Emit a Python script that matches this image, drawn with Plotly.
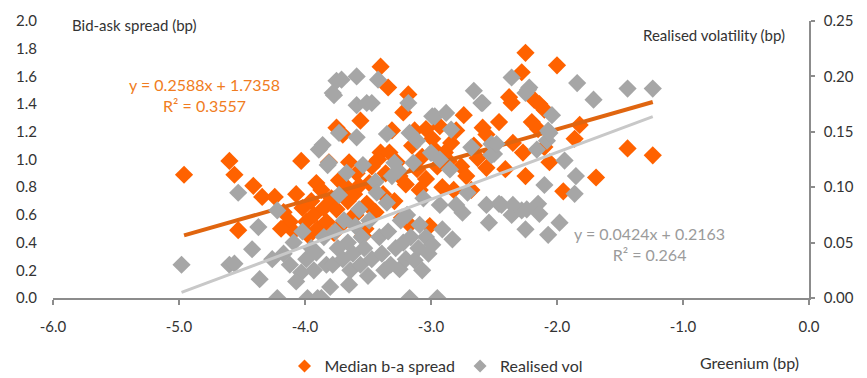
import plotly.graph_objects as go

# Median bid-ask spread (left axis, bp) vs greenium (bp)
spread_x = [-4.96,-4.60,-4.56,-4.41,-4.34,-4.24,-4.53,-4.03,-4.07,-4.17,-4.12,-4.09,-4.19,-4.02,-3.99,-3.97,-3.95,-3.93,-3.91,-3.90,
            -3.87,-3.85,-3.83,-3.81,-3.79,-3.77,-3.75,-3.75,-3.73,-3.71,-3.70,-3.68,-3.66,-3.65,-3.63,-3.61,-3.60,-3.59,-3.57,-3.56,
            -3.54,-3.52,-3.51,-3.49,-3.47,-3.44,-3.42,-3.40,-3.40,-3.38,-3.36,-3.34,-3.33,-3.31,-3.29,-3.27,-3.25,-3.23,-3.22,-3.20,
            -3.18,-3.17,-3.15,-3.13,-3.11,-3.09,-3.07,-3.04,-3.04,-3.01,-2.99,-2.97,-2.95,-2.93,-2.91,-2.89,-2.86,-2.84,-2.82,-2.80,
            -2.76,-2.74,-2.72,-2.68,-2.66,-2.63,-2.59,-2.56,-2.56,-2.52,-2.46,-2.41,-2.38,-2.36,-2.35,-2.28,-2.27,-2.25,-2.25,-2.20,
            -2.18,-2.15,-2.14,-2.10,-2.10,-2.06,-2.00,-1.95,-1.86,-1.82,-1.69,-1.44,-1.24]
spread_y = [0.89,0.99,0.89,0.81,0.73,0.73,0.49,0.99,0.75,0.62,0.55,0.48,0.50,0.65,0.55,0.45,0.70,0.60,0.83,0.50,
            0.78,0.65,0.55,0.98,0.72,0.47,1.23,0.64,0.85,0.53,1.18,0.81,0.70,0.98,0.58,0.75,0.60,0.90,0.81,1.28,
            0.45,0.50,0.68,0.83,0.95,0.62,1.00,1.67,1.05,0.75,0.90,1.52,1.05,1.21,0.70,0.98,0.88,0.58,1.34,0.82,
            1.47,0.53,1.10,1.21,0.93,0.78,1.02,1.22,0.86,0.52,1.15,1.07,0.95,1.24,0.80,1.05,0.99,1.12,0.78,1.21,
            0.95,1.32,0.88,0.78,1.10,1.01,1.23,1.18,0.94,1.05,1.27,0.93,1.45,1.41,1.12,1.63,1.05,1.77,0.88,1.27,
            1.43,1.22,1.40,1.36,1.09,0.98,1.68,0.77,1.15,1.25,0.87,1.08,1.03]

# Realised volatility (right axis, bp) vs greenium (bp)
vol_x = [-4.98,-4.60,-4.56,-4.53,-4.37,-4.42,-4.36,-4.22,-4.26,-4.22,-4.03,-4.17,-4.12,-4.09,-4.07,-4.02,-3.99,-3.98,-3.95,-3.93,
         -3.91,-3.90,-3.89,-3.87,-3.86,-3.85,-3.83,-3.82,-3.81,-3.80,-3.78,-3.78,-3.77,-3.76,-3.75,-3.74,-3.73,-3.73,-3.71,-3.70,
         -3.69,-3.67,-3.66,-3.65,-3.64,-3.62,-3.60,-3.59,-3.59,-3.59,-3.57,-3.56,-3.55,-3.54,-3.53,-3.51,-3.50,-3.49,-3.47,-3.47,
         -3.44,-3.43,-3.42,-3.41,-3.39,-3.37,-3.35,-3.35,-3.34,-3.32,-3.31,-3.29,-3.28,-3.26,-3.25,-3.24,-3.22,-3.20,-3.19,-3.18,
         -3.17,-3.17,-3.16,-3.14,-3.13,-3.11,-3.10,-3.09,-3.07,-3.06,-3.04,-3.02,-3.00,-2.99,-2.99,-2.97,-2.95,-2.93,-2.93,-2.91,
         -2.88,-2.85,-2.84,-2.83,-2.80,-2.75,-2.71,-2.68,-2.66,-2.60,-2.59,-2.56,-2.54,-2.52,-2.52,-2.50,-2.48,-2.46,-2.44,-2.36,
         -2.36,-2.35,-2.28,-2.25,-2.25,-2.24,-2.23,-2.22,-2.16,-2.15,-2.14,-2.10,-2.08,-2.07,-2.07,-2.06,-2.04,-1.98,-1.94,-1.85,
         -1.86,-1.84,-1.71,-1.44,-1.24]
vol_y = [0.030,0.030,0.031,0.095,0.064,0.044,0.017,0.000,0.035,0.079,0.023,0.040,0.030,0.050,0.015,0.060,0.035,0.000,0.045,0.025,
         0.041,0.000,0.134,0.000,0.138,0.055,0.030,0.120,0.122,0.010,0.185,0.030,0.183,0.060,0.196,0.045,0.149,0.093,0.197,0.035,
         0.070,0.113,0.050,0.012,0.025,0.040,0.065,0.200,0.174,0.145,0.080,0.030,0.055,0.120,0.045,0.176,0.020,0.070,0.176,0.035,
         0.105,0.095,0.197,0.055,0.040,0.025,0.148,0.086,0.060,0.030,0.110,0.122,0.045,0.115,0.026,0.070,0.050,0.035,0.075,0.176,
         0.149,0.000,0.055,0.122,0.034,0.142,0.045,0.066,0.025,0.090,0.055,0.040,0.131,0.164,0.048,0.164,0.000,0.125,0.084,0.062,
         0.167,0.116,0.152,0.053,0.084,0.077,0.095,0.136,0.187,0.176,0.176,0.084,0.068,0.139,0.129,0.130,0.139,0.085,0.084,0.199,
         0.075,0.084,0.079,0.185,0.062,0.080,0.188,0.190,0.134,0.085,0.076,0.102,0.142,0.151,0.057,0.149,0.165,0.068,0.124,0.110,
         0.094,0.194,0.179,0.189,0.189]

# Linear trend lines as printed on the chart
spread_slope, spread_int = 0.2588, 1.7358
vol_slope, vol_int = 0.0424, 0.2163

# Tick labels (hyphen minus, as in the original)
x_tickvals = [-6, -5, -4, -3, -2, -1, 0]
x_ticktext = ["-6.0", "-5.0", "-4.0", "-3.0", "-2.0", "-1.0", "0.0"]

ORANGE = "#FF6200"
ORANGE_LINE = "#E0650F"
GREY = "#A6A6A6"
GREY_LINE = "#C8C8C8"
TXT = "#333333"
AXIS = "#8C8C8C"
FONT = "Lato"

fig = go.Figure()
fig.add_trace(go.Scatter(x=spread_x, y=spread_y, mode="markers", name="Median b-a spread",
                         marker=dict(symbol="diamond", size=14, color=ORANGE, line=dict(width=0)),
                         yaxis="y", showlegend=False))
fig.add_trace(go.Scatter(x=vol_x, y=vol_y, mode="markers", name="Realised vol",
                         marker=dict(symbol="diamond", size=14, color=GREY, line=dict(width=0)),
                         yaxis="y2", showlegend=False))

sx = [min(spread_x), max(spread_x)]
fig.add_trace(go.Scatter(x=sx, y=[spread_slope * v + spread_int for v in sx], mode="lines",
                         line=dict(color=ORANGE_LINE, width=4), showlegend=False, hoverinfo="skip",
                         yaxis="y"))
vx = [min(vol_x), max(vol_x)]
fig.add_trace(go.Scatter(x=vx, y=[vol_slope * v + vol_int for v in vx], mode="lines",
                         line=dict(color=GREY_LINE, width=3), showlegend=False, hoverinfo="skip",
                         yaxis="y2"))

# legend entries with small symbols, as in the original legend
fig.add_trace(go.Scatter(x=[None], y=[None], mode="markers", name="Median b-a spread",
                         marker=dict(symbol="diamond", size=10, color=ORANGE)))
fig.add_trace(go.Scatter(x=[None], y=[None], mode="markers", name="Realised vol",
                         marker=dict(symbol="diamond", size=10, color=GREY)))

FIG_W, FIG_H = 867, 378
L, R, T, B = 53, 809, 21, 298
W, H = R - L, B - T

fig.update_layout(
    width=FIG_W, height=FIG_H, autosize=False,
    margin=dict(l=L, r=FIG_W - R, t=T, b=FIG_H - B, pad=0),
    paper_bgcolor="white", plot_bgcolor="white",
    font=dict(family=FONT, size=15, color=TXT),
    showlegend=True,
    legend=dict(orientation="h", xref="container", yref="container",
                x=436 / FIG_W, xanchor="center", y=(FIG_H - 366) / FIG_H, yanchor="middle",
                font=dict(size=16, color=TXT), itemwidth=30, itemsizing="trace", tracegroupgap=0),
    xaxis=dict(range=[-6, 0], tickvals=x_tickvals, ticktext=x_ticktext, showgrid=False, zeroline=False,
               showline=True, linecolor=AXIS, linewidth=1.5, ticks="outside", ticklen=5,
               tickcolor=AXIS, tickwidth=1.5, ticklabelstandoff=9, tickfont=dict(size=15, color=TXT)),
    yaxis=dict(range=[0, 2.0], dtick=0.2, tickformat=".1f", showgrid=False, zeroline=False,
               showline=False, ticks="outside", ticklen=12, tickcolor="rgba(0,0,0,0)",
               tickfont=dict(size=15, color=TXT)),
    yaxis2=dict(range=[0, 0.25], dtick=0.05, tickformat=".2f", overlaying="y", side="right",
                showgrid=False, zeroline=False, showline=True, linecolor=AXIS, linewidth=1.5,
                ticks="outside", ticklen=4, tickcolor=AXIS, tickwidth=1.5, ticklabelstandoff=6,
                tickfont=dict(size=15, color=TXT)),
)

def px_x(p):
    return (p - L) / W

def px_y(p):
    return (B - p) / H

fig.add_annotation(text="Bid-ask spread (bp)", xref="paper", yref="paper", x=px_x(70), y=px_y(25),
                   xanchor="left", yanchor="middle", showarrow=False, font=dict(size=15, color=TXT))
fig.add_annotation(text="Realised volatility (bp)", xref="paper", yref="paper", x=px_x(787), y=px_y(35),
                   xanchor="right", yanchor="middle", showarrow=False, font=dict(size=15, color=TXT))
fig.add_annotation(text="Greenium (bp)", xref="paper", yref="paper", x=px_x(801), y=px_y(362),
                   xanchor="right", yanchor="middle", showarrow=False, font=dict(size=16, color=TXT))

fig.add_annotation(text="y = 0.2588x + 1.7358<br>R² = 0.3557", xref="paper", yref="paper",
                   x=px_x(204), y=px_y(95), xanchor="center", yanchor="middle",
                   showarrow=False, align="center", font=dict(size=16, color="#F07C21"))
fig.add_annotation(text="y = 0.0424x + 0.2163<br>R² = 0.264", xref="paper", yref="paper",
                   x=px_x(649), y=px_y(244), xanchor="center", yanchor="middle",
                   showarrow=False, align="center", font=dict(size=16, color="#9B9B9B"))

# remove the browser's default page margin so the 867x378 figure fills the window exactly
post_js = ("document.documentElement.style.margin='0';document.body.style.margin='0';"
           "document.body.style.padding='0';document.body.style.overflow='hidden';")

fig.write_html("out.html", post_script=post_js, config={"displayModeBar": False})
